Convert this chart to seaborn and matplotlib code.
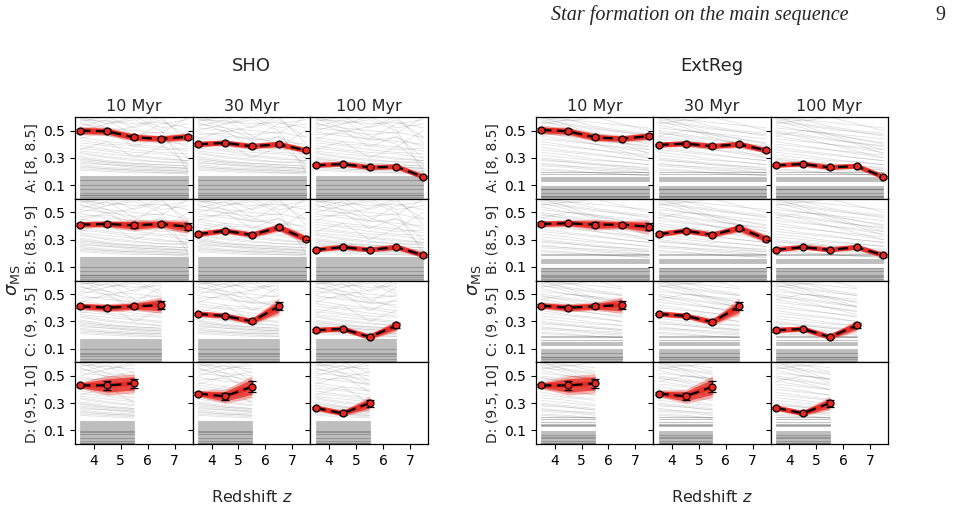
import numpy as np
import pandas as pd
import matplotlib
matplotlib.use("Agg")
import matplotlib.pyplot as plt
import seaborn as sns

# ---------------- data ----------------
redshifts = [3.5, 4.5, 5.5, 6.5, 7.5]
age_labels = ["10 Myr", "30 Myr", "100 Myr"]
row_labels = ["A: [8, 8.5]", "B: (8.5, 9]", "C: (9, 9.5]", "D: (9.5, 10]"]
row_nz = [5, 5, 4, 3]          # number of redshift bins in each mass row
group_names = ["SHO", "ExtReg"]

# sigma_MS per row -> per column (10, 30, 100 Myr)
sho_A = [[0.500, 0.495, 0.450, 0.440, 0.455], [0.400, 0.410, 0.385, 0.400, 0.355], [0.245, 0.255, 0.230, 0.235, 0.160]]
sho_B = [[0.410, 0.415, 0.405, 0.415, 0.395], [0.340, 0.365, 0.335, 0.390, 0.305], [0.225, 0.245, 0.225, 0.245, 0.185]]
sho_C = [[0.410, 0.400, 0.410, 0.420], [0.355, 0.340, 0.300, 0.410], [0.235, 0.245, 0.185, 0.270]]
sho_D = [[0.430, 0.430, 0.445], [0.370, 0.350, 0.420], [0.265, 0.225, 0.300]]

ext_A = [[0.505, 0.495, 0.450, 0.440, 0.460], [0.395, 0.405, 0.385, 0.400, 0.355], [0.245, 0.255, 0.230, 0.240, 0.160]]
ext_B = [[0.415, 0.420, 0.410, 0.410, 0.395], [0.340, 0.365, 0.335, 0.385, 0.305], [0.225, 0.245, 0.225, 0.245, 0.185]]
ext_C = [[0.415, 0.400, 0.410, 0.420], [0.355, 0.340, 0.295, 0.410], [0.235, 0.245, 0.185, 0.270]]
ext_D = [[0.430, 0.430, 0.445], [0.370, 0.350, 0.420], [0.265, 0.225, 0.300]]

# uncertainties
sho_A_err = [[0.015, 0.015, 0.015, 0.012, 0.015], [0.010, 0.010, 0.010, 0.012, 0.010], [0.008, 0.008, 0.008, 0.008, 0.008]]
sho_B_err = [[0.012, 0.012, 0.020, 0.015, 0.025], [0.010, 0.010, 0.010, 0.015, 0.015], [0.008, 0.008, 0.008, 0.010, 0.010]]
sho_C_err = [[0.012, 0.015, 0.015, 0.030], [0.010, 0.010, 0.012, 0.030], [0.010, 0.010, 0.010, 0.020]]
sho_D_err = [[0.012, 0.035, 0.035], [0.012, 0.025, 0.040], [0.010, 0.010, 0.025]]
ext_A_err = sho_A_err
ext_B_err = sho_B_err
ext_C_err = sho_C_err
ext_D_err = sho_D_err

# background individual tracks (values at the five redshifts)
sho_tracks = [
    [0.58, 0.57, 0.55, 0.56, 0.52], [0.55, 0.52, 0.50, 0.48, 0.60], [0.52, 0.50, 0.47, 0.49, 0.45],
    [0.49, 0.46, 0.44, 0.42, 0.40], [0.47, 0.48, 0.43, 0.45, 0.38], [0.45, 0.42, 0.40, 0.38, 0.35],
    [0.43, 0.40, 0.39, 0.36, 0.37], [0.41, 0.39, 0.36, 0.34, 0.33], [0.39, 0.36, 0.34, 0.33, 0.30],
    [0.37, 0.35, 0.32, 0.30, 0.28], [0.35, 0.33, 0.31, 0.29, 0.28], [0.33, 0.30, 0.28, 0.27, 0.26],
    [0.31, 0.28, 0.26, 0.25, 0.24], [0.30, 0.27, 0.25, 0.24, 0.22], [0.28, 0.26, 0.24, 0.23, 0.22],
    [0.27, 0.25, 0.23, 0.22, 0.21], [0.25, 0.23, 0.22, 0.21, 0.20], [0.24, 0.22, 0.21, 0.20, 0.19],
    [0.22, 0.21, 0.20, 0.19, 0.19], [0.21, 0.20, 0.19, 0.19, 0.18], [0.60, 0.55, 0.58, 0.50, 0.20],
    [0.57, 0.60, 0.52, 0.58, 0.45], [0.50, 0.55, 0.60, 0.52, 0.55], [0.44, 0.50, 0.38, 0.46, 0.30],
    [0.59, 0.52, 0.44, 0.55, 0.58], [0.53, 0.58, 0.46, 0.40, 0.25], [0.36, 0.42, 0.30, 0.38, 0.50],
    [0.56, 0.49, 0.53, 0.60, 0.41], [0.34, 0.31, 0.29, 0.27, 0.27], [0.29, 0.27, 0.26, 0.25, 0.24],
    [0.26, 0.25, 0.24, 0.23, 0.23], [0.23, 0.22, 0.21, 0.21, 0.20],
]
sho_flat = [0.005, 0.011, 0.011, 0.018, 0.024, 0.024, 0.031, 0.038, 0.043, 0.043, 0.050, 0.057, 0.063,
            0.070, 0.070, 0.078, 0.085, 0.091, 0.098, 0.098, 0.106, 0.113, 0.120, 0.127, 0.134, 0.140,
            0.147, 0.155, 0.162, 0.170]

ext_tracks = [
    [0.60, 0.58, 0.56, 0.54, 0.52], [0.58, 0.55, 0.52, 0.49, 0.46], [0.56, 0.54, 0.51, 0.49, 0.47],
    [0.54, 0.50, 0.47, 0.44, 0.41], [0.52, 0.50, 0.48, 0.46, 0.44], [0.50, 0.47, 0.44, 0.41, 0.38],
    [0.48, 0.46, 0.43, 0.41, 0.39], [0.46, 0.43, 0.40, 0.37, 0.34], [0.44, 0.42, 0.40, 0.38, 0.36],
    [0.42, 0.39, 0.36, 0.33, 0.30], [0.40, 0.38, 0.36, 0.34, 0.32], [0.38, 0.35, 0.33, 0.30, 0.28],
    [0.36, 0.34, 0.32, 0.30, 0.28], [0.34, 0.32, 0.29, 0.27, 0.25], [0.32, 0.30, 0.28, 0.27, 0.25],
    [0.30, 0.28, 0.26, 0.24, 0.22], [0.28, 0.27, 0.25, 0.24, 0.23], [0.26, 0.24, 0.22, 0.21, 0.19],
    [0.24, 0.23, 0.21, 0.20, 0.19], [0.22, 0.21, 0.19, 0.18, 0.17], [0.59, 0.57, 0.60, 0.55, 0.50],
    [0.57, 0.52, 0.45, 0.40, 0.33], [0.55, 0.58, 0.53, 0.50, 0.48], [0.49, 0.45, 0.40, 0.35, 0.30],
    [0.46, 0.50, 0.48, 0.44, 0.40], [0.60, 0.54, 0.47, 0.41, 0.36], [0.21, 0.20, 0.19, 0.18, 0.17],
    [0.25, 0.24, 0.23, 0.22, 0.21], [0.29, 0.27, 0.25, 0.23, 0.21],
]
ext_flat = [0.005, 0.011, 0.011, 0.017, 0.023, 0.023, 0.030, 0.036, 0.042, 0.042, 0.049, 0.055, 0.061,
            0.068, 0.068, 0.075, 0.082, 0.089, 0.094, 0.130, 0.136, 0.142, 0.150, 0.160, 0.185, 0.196]

groups = {
    "SHO": dict(rows=[sho_A, sho_B, sho_C, sho_D], errs=[sho_A_err, sho_B_err, sho_C_err, sho_D_err],
                tracks=sho_tracks, flat=sho_flat),
    "ExtReg": dict(rows=[ext_A, ext_B, ext_C, ext_D], errs=[ext_A_err, ext_B_err, ext_C_err, ext_D_err],
                   tracks=ext_tracks, flat=ext_flat),
}

# ---------------- plotting ----------------
sns.set_style("ticks")
plt.rcParams["font.family"] = ["DejaVu Sans"]
plt.rcParams["xtick.direction"] = "out"
plt.rcParams["ytick.direction"] = "out"

fig = plt.figure(figsize=(9.55, 5.08), dpi=100)

W, H = 955.0, 508.0
group_x = {"SHO": (75, 428), "ExtReg": (536, 888)}
y_top, y_bot = 117, 444
red = "#e8261f"

for gname in group_names:
    g = groups[gname]
    x0, x1 = group_x[gname]
    gs = fig.add_gridspec(4, 3, left=x0 / W, right=x1 / W, bottom=1 - y_bot / H, top=1 - y_top / H,
                          wspace=0, hspace=0)
    # long-form background tracks
    trk_rows = []
    for i, t in enumerate(g["tracks"]):
        for z, v in zip(redshifts, t):
            trk_rows.append(dict(track=f"t{i}", z=z, s=v))
    flat_rows = []
    for i, lv in enumerate(g["flat"]):
        for z in redshifts:
            flat_rows.append(dict(track=f"f{i}", z=z, s=lv))
    trk_df = pd.DataFrame(trk_rows)
    flat_df = pd.DataFrame(flat_rows)

    for r in range(4):
        nz = row_nz[r]
        zmax = redshifts[nz - 1]
        for c in range(3):
            ax = fig.add_subplot(gs[r, c])
            sns.lineplot(data=trk_df[trk_df.z <= zmax], x="z", y="s", units="track", estimator=None,
                         color="0.4", lw=0.6, alpha=0.2, ax=ax, legend=False)
            sns.lineplot(data=flat_df[flat_df.z <= zmax], x="z", y="s", units="track", estimator=None,
                         color="0.3", lw=0.8, alpha=0.33, ax=ax, legend=False)

            zs = np.array(redshifts[:nz])
            m = np.array(g["rows"][r][c])
            e = np.array(g["errs"][r][c])
            ax.fill_between(zs, m - 2.0 * e, m + 2.0 * e, color=red, alpha=0.35, lw=0, zorder=3)
            ax.fill_between(zs, m - 1.4 * e, m + 1.4 * e, color=red, alpha=0.75, lw=0, zorder=3)
            ax.plot(zs, m, color=red, lw=3.5, alpha=0.85, zorder=4, solid_capstyle="round")
            line_df = pd.DataFrame(dict(z=zs, s=m))
            sns.lineplot(data=line_df, x="z", y="s", color="black", lw=1.6, ax=ax, zorder=5,
                         dashes=False, legend=False)
            ax.lines[-1].set_dashes((4.5, 2.5))
            ax.errorbar(zs, m, yerr=e, fmt="o", ms=5, mfc=red, mec="black", mew=0.9,
                        ecolor="black", elinewidth=1.0, capsize=3, capthick=1.0, zorder=6)

            ax.set_xlim(3.3, 7.67)
            ax.set_ylim(0.0, 0.6)
            ax.set_xticks([4, 5, 6, 7])
            ax.set_yticks([0.1, 0.3, 0.5])
            ax.set_xlabel("")
            ax.set_ylabel("")
            ax.tick_params(labelsize=10, length=3.5, width=0.8, colors="black")
            for sp in ax.spines.values():
                sp.set_linewidth(0.9)
                sp.set_color("black")
            if c == 0:
                ax.set_ylabel(row_labels[r], fontsize=10, labelpad=3)
                ax.set_yticklabels(["0.1", "0.3", "0.5"])
            else:
                ax.tick_params(labelleft=False)
            if r < 3:
                ax.tick_params(bottom=False, labelbottom=False)
            if r == 0:
                ax.set_title(age_labels[c], fontsize=11.5, pad=4)

    xc = (x0 + x1) / 2 / W
    fig.text(xc, 1 - 66 / H, gname, ha="center", va="center", fontsize=13)
    fig.text(xc, 1 - 497 / H, "Redshift $z$", ha="center", va="center", fontsize=11.5)
    fig.text((x0 - 62) / W, 1 - 280 / H, r"$\sigma_{\rm MS}$", ha="center", va="center",
             rotation=90, fontsize=13)

fig.text(848 / W, 1 - 15 / H, "Star formation on the main sequence", ha="right", va="center",
         fontsize=14.5, family="Liberation Serif", style="italic")
fig.text(945 / W, 1 - 15 / H, "9", ha="right", va="center", fontsize=14.5, family="Liberation Serif")

fig.savefig("out.png", dpi=100)
